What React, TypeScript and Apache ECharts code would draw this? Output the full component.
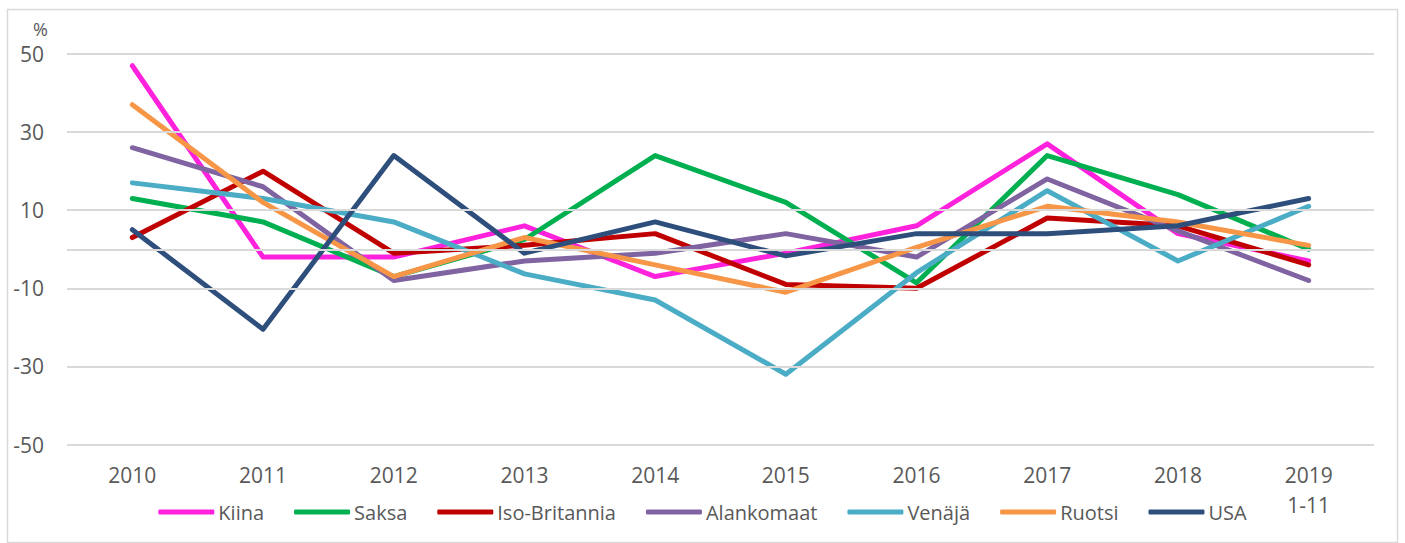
import React, { useEffect, useRef } from "react";
import * as echarts from "echarts";

const categories = ["2010", "2011", "2012", "2013", "2014", "2015", "2016", "2017", "2018", "2019\n1-11"];

const kiina = [47, -2, -2, 6, -7, -1, 6, 27, 4, -3];
const saksa = [13, 7, -7, 2.5, 24, 12, -8.6, 24, 14, 0];
const isoBritannia = [3, 20, -1, 1, 4, -9, -10, 8, 6, -4];
const alankomaat = [26, 16, -8, -3, -1, 4, -2, 18, 4.7, -8];
const venaja = [17, 13, 7, -6.3, -13, -32, -6, 15, -3, 11];
const ruotsi = [37, 12, -7, 3, -4, -11, 0.5, 11, 7, 1];
const usa = [5, -20.5, 24, -1, 7, -1.7, 4, 4, 6, 13];

const seriesNames = ["Kiina", "Saksa", "Iso-Britannia", "Alankomaat", "Venäjä", "Ruotsi", "USA"];
const seriesData = [kiina, saksa, isoBritannia, alankomaat, venaja, ruotsi, usa];
const seriesColors = ["#ff22dd", "#00b050", "#c00000", "#8064a2", "#4bacc6", "#f79646", "#2e4f7c"];

const gridValues = [-50, -30, -10, 0, 10, 30, 50];

const FONT = "'Open Sans', sans-serif";
const TEXT = "#595959";

export default function App() {
  const ref = useRef<HTMLDivElement>(null);
  useEffect(() => {
    if (!ref.current) return;
    const chart = echarts.init(ref.current, null, { renderer: "svg" });
    const lines = seriesNames.map((name, i) => ({
      name,
      type: "line",
      data: seriesData[i],
      symbol: "none",
      z: 3,
      lineStyle: { width: 5, color: seriesColors[i], cap: "round", join: "round" },
      itemStyle: { color: seriesColors[i] },
    }));
    chart.setOption({
      animation: false,
      textStyle: { fontFamily: FONT },
      grid: { left: 67, right: 31, top: 54, bottom: 98.5 },
      graphic: [
        {
          type: "rect",
          shape: { x: 7.5, y: 9.5, width: 1390, height: 533 },
          style: { fill: "none", stroke: "#d9d9d9", lineWidth: 1.5 },
          silent: true,
        },
        {
          type: "text",
          left: 33,
          top: 20,
          style: { text: "%", fontSize: 18, fill: TEXT, fontFamily: FONT },
        },
      ],
      legend: {
        data: seriesNames,
        left: "center",
        top: 497,
        icon: "roundRect",
        itemWidth: 56,
        itemHeight: 5,
        itemGap: 30,
        textStyle: { fontSize: 20, color: TEXT, fontFamily: FONT, padding: [0, 0, 0, -1] },
      },
      xAxis: {
        type: "category",
        data: categories,
        boundaryGap: true,
        axisLine: { show: false, onZero: false },
        axisTick: { show: false },
        axisLabel: { fontSize: 21, color: TEXT, margin: 15, lineHeight: 30, fontFamily: FONT },
        splitLine: { show: false },
      },
      yAxis: {
        type: "value",
        min: -50,
        max: 50,
        interval: 10,
        axisLine: { show: false },
        axisTick: { show: false },
        splitLine: { show: false },
        axisLabel: {
          fontSize: 21,
          color: TEXT,
          margin: 23,
          fontFamily: FONT,
          formatter: (v: number) => (Math.abs(v) % 20 === 10 ? String(v) : ""),
        },
      },
      series: [
        {
          name: "grid",
          type: "line",
          data: [],
          z: 1,
          silent: true,
          markLine: {
            silent: true,
            symbol: "none",
            label: { show: false },
            lineStyle: { color: "#d9d9d9", width: 2, type: "solid" },
            data: gridValues.map((v) => ({ yAxis: v })),
          },
        },
        ...lines,
      ],
    });
    return () => chart.dispose();
  }, []);
  return <div ref={ref} style={{ position: "fixed", left: 0, top: 0, width: 1405, height: 543, background: "#fff" }} />;
}
